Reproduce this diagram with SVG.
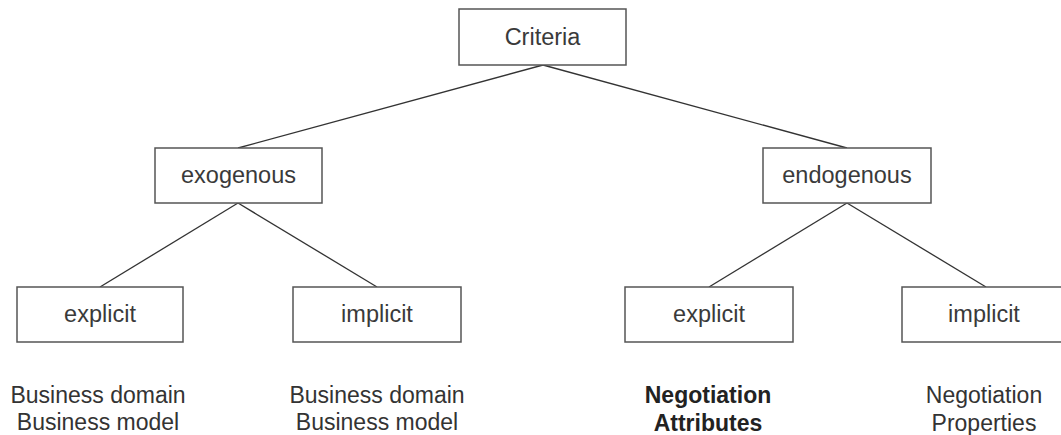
<svg xmlns="http://www.w3.org/2000/svg" width="1061" height="435" viewBox="0 0 1061 435">
<style>
.box{fill:#fff;stroke:#555;stroke-width:1.5}
.lbl{font-family:"Liberation Sans",Arial,sans-serif;font-size:23.5px;fill:#3a3a3a;text-anchor:middle}
.note{font-family:"Liberation Sans",Arial,sans-serif;font-size:23px;fill:#333;text-anchor:middle}
.bold{font-weight:bold;fill:#222}
.edge{stroke:#333;stroke-width:1.3;fill:none}
</style>
<rect width="1061" height="435" fill="#fff"/>
<g id="connectors">
<line class="edge" x1="543" y1="65" x2="238" y2="148"/>
<line class="edge" x1="543" y1="65" x2="847" y2="148"/>
<line class="edge" x1="238" y1="203" x2="100" y2="287"/>
<line class="edge" x1="238" y1="203" x2="377" y2="287"/>
<line class="edge" x1="847" y1="203" x2="709" y2="287"/>
<line class="edge" x1="847" y1="203" x2="986" y2="287"/>
</g>
<g id="criteria"><rect class="box" x="459" y="9" width="167" height="56"/><text class="lbl" x="542.5" y="45">Criteria</text></g>
<g id="exogenous"><rect class="box" x="155" y="148" width="167" height="55"/><text class="lbl" x="238.5" y="183">exogenous</text></g>
<g id="endogenous"><rect class="box" x="763" y="148" width="168" height="55"/><text class="lbl" x="847" y="183">endogenous</text></g>
<g id="exo-explicit"><rect class="box" x="17" y="287" width="166" height="55"/><text class="lbl" x="100" y="322">explicit</text></g>
<g id="exo-implicit"><rect class="box" x="293" y="287" width="168" height="55"/><text class="lbl" x="377" y="322">implicit</text></g>
<g id="endo-explicit"><rect class="box" x="625" y="287" width="168" height="55"/><text class="lbl" x="709" y="322">explicit</text></g>
<g id="endo-implicit"><rect class="box" x="902" y="287" width="170" height="55"/><text class="lbl" x="984" y="322">implicit</text></g>
<g id="note-exo-explicit"><text class="note" x="98" y="403">Business domain</text><text class="note" x="98" y="430">Business model</text></g>
<g id="note-exo-implicit"><text class="note" x="377" y="403">Business domain</text><text class="note" x="377" y="430">Business model</text></g>
<g id="note-endo-explicit"><text class="note bold" x="708" y="403">Negotiation</text><text class="note bold" x="708" y="431">Attributes</text></g>
<g id="note-endo-implicit"><text class="note" x="984" y="403">Negotiation</text><text class="note" x="984" y="431">Properties</text></g>
</svg>
